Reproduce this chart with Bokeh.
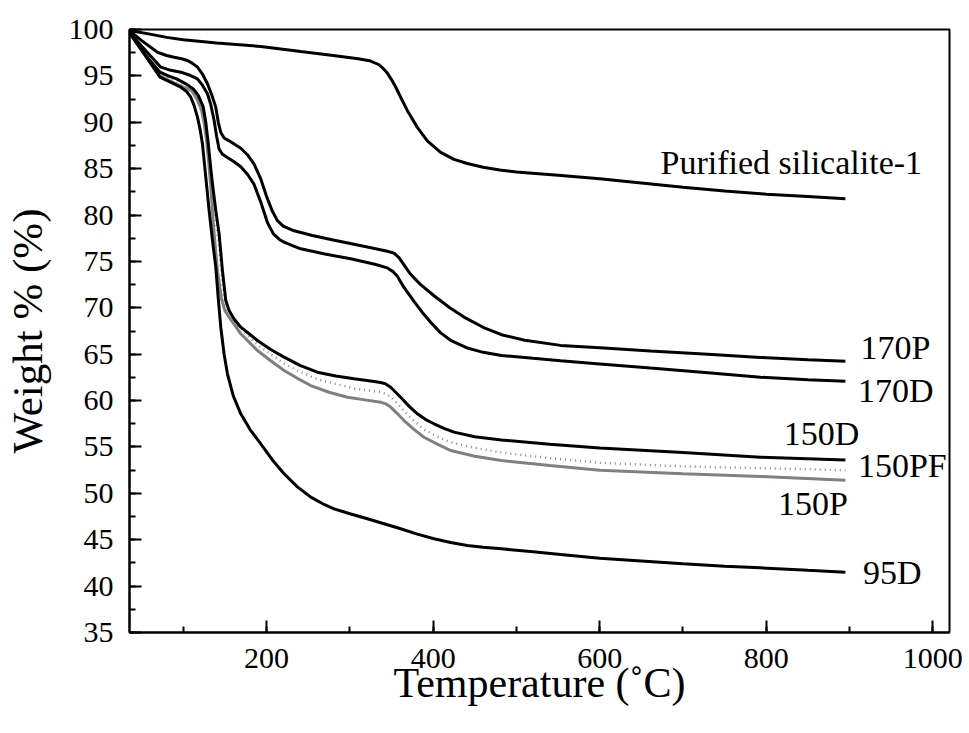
from bokeh.plotting import figure
from bokeh.models import SingleIntervalTicker, Range1d, Label
from bokeh.embed import file_html
from bokeh.resources import INLINE

# ---- data ----
t_pur = [35, 60, 80, 100, 140, 193, 241, 280, 310, 325, 335, 340, 345, 350, 355, 361, 370, 381, 393, 409, 425, 441, 460, 480, 500, 550, 600, 650, 700, 750, 800, 850, 895]
w_pur = [99.9, 99.5, 99.15, 98.9, 98.55, 98.17, 97.63, 97.2, 96.85, 96.6, 96.2, 95.8, 95.3, 94.6, 93.8, 92.7, 91.1, 89.45, 88.0, 86.75, 86.0, 85.55, 85.15, 84.85, 84.65, 84.3, 83.9, 83.45, 83.0, 82.6, 82.25, 82.0, 81.75]

t_170p = [35, 50, 69, 80, 89, 98, 105, 111, 117, 123, 129, 134, 139, 142, 145, 149, 155, 162, 169, 177, 185, 193, 200, 207, 213, 220, 233, 255, 280, 321, 345, 353, 359, 366, 373, 385, 401, 420, 437, 460, 482, 510, 553, 600, 661, 730, 793, 850, 895]
w_170p = [99.9, 98.8, 97.55, 97.2, 97.0, 96.85, 96.66, 96.35, 95.94, 95.2, 94.15, 93.0, 91.63, 90.0, 88.9, 88.3, 88.0, 87.6, 87.2, 86.5, 85.5, 83.9, 82.0, 80.4, 79.4, 78.8, 78.3, 77.8, 77.3, 76.55, 76.1, 75.9, 75.4, 74.5, 73.6, 72.5, 71.3, 70.0, 69.0, 67.9, 67.1, 66.5, 65.95, 65.7, 65.35, 65.0, 64.65, 64.4, 64.24]

t_170d = [35, 55, 73, 85, 97, 107, 117, 123, 129, 133, 137, 140, 143, 147, 153, 161, 169, 177, 185, 193, 201, 208, 215, 221, 231, 241, 270, 301, 330, 345, 352, 357, 365, 377, 387, 397, 409, 421, 440, 460, 482, 520, 553, 600, 661, 730, 793, 850, 895]
w_170d = [99.7, 97.7, 95.94, 95.6, 95.4, 95.1, 94.68, 94.0, 93.07, 91.9, 90.19, 88.5, 87.1, 86.55, 86.2, 85.75, 85.2, 84.4, 83.3, 81.4, 79.2, 78.0, 77.4, 77.07, 76.7, 76.36, 75.8, 75.28, 74.7, 74.3, 73.9, 73.4, 72.2, 70.7, 69.5, 68.45, 67.3, 66.5, 65.7, 65.2, 64.86, 64.55, 64.3, 63.95, 63.5, 63.0, 62.52, 62.25, 62.09]

t_150d = [35, 55, 72, 82, 92, 102, 112, 118, 124, 127, 130, 133, 135, 139, 143, 147, 151, 155, 161, 169, 179, 189, 205, 221, 240, 261, 283, 305, 325, 337, 343, 349, 355, 361, 371, 381, 391, 401, 413, 425, 450, 482, 540, 600, 700, 793, 895]
w_150d = [99.8, 97.2, 95.4, 95.0, 94.68, 94.2, 93.6, 92.9, 91.63, 90.0, 87.68, 85.0, 83.37, 80.49, 77.98, 74.0, 70.79, 69.71, 68.8, 67.91, 67.2, 66.48, 65.5, 64.68, 63.8, 63.06, 62.65, 62.35, 62.1, 61.95, 61.8, 61.44, 60.9, 60.36, 59.4, 58.57, 57.95, 57.5, 57.0, 56.6, 56.1, 55.75, 55.3, 54.9, 54.4, 53.9, 53.6]

t_150pf = [35, 72, 100, 112, 122, 126, 129, 132, 135, 139, 143, 147, 150, 155, 160, 175, 189, 205, 221, 240, 261, 283, 305, 325, 337, 343, 349, 357, 365, 377, 389, 405, 421, 450, 482, 540, 600, 700, 800, 895]
w_150pf = [99.7, 95.2, 93.9, 93.1, 91.4, 90.0, 88.0, 85.3, 82.5, 79.5, 76.5, 72.5, 70.3, 69.3, 68.6, 67.2, 66.0, 65.0, 64.0, 63.1, 62.3, 61.8, 61.3, 61.05, 60.9, 60.75, 60.4, 59.7, 58.9, 57.8, 56.9, 56.1, 55.5, 54.9, 54.4, 53.8, 53.3, 52.9, 52.7, 52.5]

t_150p = [35, 72, 90, 110, 116, 122, 125, 128, 131, 133, 137, 141, 146, 150, 155, 162, 169, 179, 189, 205, 221, 237, 253, 275, 297, 320, 337, 343, 349, 357, 365, 377, 389, 405, 421, 450, 482, 540, 600, 700, 793, 895]
w_150p = [99.7, 95.0, 94.2, 93.4, 92.6, 91.27, 89.9, 88.0, 85.2, 83.0, 78.0, 74.0, 70.9, 69.7, 69.0, 68.1, 67.2, 66.3, 65.4, 64.3, 63.24, 62.4, 61.62, 60.9, 60.36, 60.05, 59.83, 59.65, 59.3, 58.6, 57.85, 56.9, 56.05, 55.3, 54.62, 54.0, 53.54, 53.0, 52.5, 52.1, 51.82, 51.4]

t_95d = [35, 55, 72, 85, 97, 104, 109, 113, 117, 120, 123, 127, 131, 135, 139, 142, 145, 149, 153, 160, 169, 180, 193, 207, 221, 237, 253, 267, 281, 300, 321, 341, 361, 381, 401, 421, 441, 460, 482, 520, 553, 600, 650, 700, 750, 793, 850, 895]
w_95d = [99.7, 97.1, 94.86, 94.3, 93.78, 93.3, 92.7, 91.8, 90.55, 89.3, 87.68, 84.08, 80.49, 77.3, 74.38, 71.0, 67.91, 65.0, 62.88, 60.5, 58.57, 56.9, 55.34, 53.6, 52.11, 50.7, 49.59, 48.9, 48.33, 47.8, 47.26, 46.72, 46.18, 45.6, 45.1, 44.7, 44.38, 44.2, 44.02, 43.7, 43.4, 43.0, 42.7, 42.4, 42.15, 41.97, 41.7, 41.5]

label_text = ["Purified silicalite-1", "170P", "170D", "150D", "150PF", "150P", "95D"]
label_x = [673, 913, 910, 821, 910, 814, 916]
label_y = [85.7, 65.7, 61.1, 56.45, 53.0, 48.9, 41.5]

x_lo, x_hi = 35.4, 1020
y_lo, y_hi = 35, 100

FONT = "Liberation Serif"

p = figure(width=963, height=725,
           x_range=Range1d(x_lo, x_hi), y_range=Range1d(y_lo, y_hi),
           output_backend="svg", toolbar_location=None,
           min_border_left=129, min_border_top=29,
           min_border_right=14, min_border_bottom=93)

p.background_fill_color = "white"
p.border_fill_color = "white"
p.outline_line_color = "black"
p.outline_line_width = 2
p.outline_line_alpha = 1.0
p.xgrid.visible = False
p.ygrid.visible = False

p.xaxis.ticker = SingleIntervalTicker(interval=200, num_minor_ticks=2)
p.yaxis.ticker = SingleIntervalTicker(interval=5, num_minor_ticks=2)

for ax in (p.xaxis[0], p.yaxis[0]):
    ax.axis_line_width = 2
    ax.axis_line_color = "black"
    ax.major_tick_in = 12
    ax.major_tick_out = 0
    ax.minor_tick_in = 6
    ax.minor_tick_out = 0
    ax.major_tick_line_width = 2
    ax.minor_tick_line_width = 2
    ax.major_tick_line_color = "black"
    ax.minor_tick_line_color = "black"
    ax.major_label_text_font = FONT
    ax.major_label_text_font_size = "30px"
    ax.major_label_text_color = "black"
    ax.axis_label_text_font = FONT
    ax.axis_label_text_font_style = "normal"
    ax.axis_label_text_color = "black"

p.xaxis.axis_label = "Temperature (\u02daC)"
p.yaxis.axis_label = "Weight % (%)"
p.xaxis.axis_label_text_font_size = "42px"
p.yaxis.axis_label_text_font_size = "43px"
p.xaxis.major_label_standoff = 16
p.xaxis.axis_label_standoff = -11
p.yaxis.major_label_standoff = 16
p.yaxis.axis_label_standoff = 15

p.line(t_150p, w_150p, line_color="#808080", line_width=3)
p.line(t_150pf, w_150pf, line_color="#8a8a8a", line_width=2.5, line_dash="1 4")
p.line(t_95d, w_95d, line_color="black", line_width=3)
p.line(t_150d, w_150d, line_color="black", line_width=3)
p.line(t_170d, w_170d, line_color="black", line_width=3)
p.line(t_170p, w_170p, line_color="black", line_width=3)
p.line(t_pur, w_pur, line_color="black", line_width=3)

for txt, lx, ly in zip(label_text, label_x, label_y):
    p.add_layout(Label(x=lx, y=ly, text=txt, text_font=FONT,
                       text_font_size="34px", text_color="black",
                       text_align="left", text_baseline="middle"))

open("out.html", "w").write(file_html(p, INLINE))
